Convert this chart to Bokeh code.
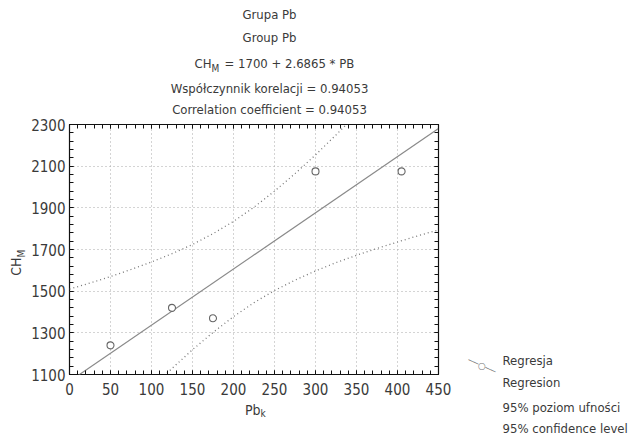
from bokeh.plotting import figure
from bokeh.models import Range1d, LinearAxis, FixedTicker, Label
from bokeh.embed import file_html
from bokeh.resources import INLINE

# ---- data ----
pb = [50, 125, 175, 300, 405]
ch = [1240, 1420, 1370, 2075, 2075]

reg_x = [0, 450]
reg_y = [1067.1, 2280.4]

band_x = [0, 25, 50, 75, 100, 125, 150, 175, 200, 225, 250, 275, 300, 325, 350, 375, 400, 425, 450]
band_upper = [1510, 1539, 1570, 1604, 1640, 1680, 1724, 1776, 1835, 1903, 1980, 2064, 2154, 2250, 2349, 2451, 2555, 2660, 2767]
band_lower = [624, 730, 833, 935, 1034, 1129, 1219, 1302, 1378, 1445, 1503, 1553, 1597, 1637, 1672, 1705, 1736, 1766, 1794]

x_ticks = [0, 50, 100, 150, 200, 250, 300, 350, 400, 450]
y_ticks = [1100, 1300, 1500, 1700, 1900, 2100, 2300]

title_lines = ["Grupa Pb", "Group Pb"]
eq_text = "= 1700 + 2.6865 * PB"
corr_lines = ["Współczynnik korelacji = 0.94053", "Correlation coefficient = 0.94053"]
legend_reg = ["Regresja", "Regresion"]
legend_conf = ["95% poziom ufności", "95% confidence level"]

# ---- geometry ----
W, H = 636, 439
FL, FR, FT, FB = 69, 438, 124, 374
X0, X1, Y0, Y1 = 0, 450, 1100, 2300

def xd(px):
    return X0 + (px - FL) * (X1 - X0) / (FR - FL)

def yd(py):
    return Y1 - (py - FT) * (Y1 - Y0) / (FB - FT)

FONT = "'Liberation Sans Narrow', 'DejaVu Sans Condensed', sans-serif"
TXT = "#3a3a3a"
FS = "15px"
FT_S = "13px"

p = figure(width=W, height=H, output_backend="svg", toolbar_location=None,
           x_range=Range1d(X0, X1), y_range=Range1d(Y0, Y1),
           min_border_left=FL, min_border_right=W - FR,
           min_border_top=FT, min_border_bottom=H - FB,
           x_axis_location=None, y_axis_location=None)
p.background_fill_color = "white"
p.border_fill_color = "white"
p.outline_line_color = "#111111"
p.outline_line_width = 1.2

xt = FixedTicker(ticks=x_ticks, minor_ticks=list(range(0, 451, 10)))
yt = FixedTicker(ticks=y_ticks, minor_ticks=list(range(1100, 2301, 40)))

for g in p.xgrid:
    g.ticker = xt
for g in p.ygrid:
    g.ticker = yt
p.grid.grid_line_color = "#a8a8a8"
p.grid.grid_line_dash = "1 3"

def style_axis(ax):
    ax.axis_line_color = None
    ax.major_tick_in = 4
    ax.major_tick_out = 0
    ax.minor_tick_in = 4
    ax.minor_tick_out = 0
    ax.major_tick_line_color = "#111111"
    ax.minor_tick_line_color = "#111111"
    ax.major_label_text_font = FONT
    ax.major_label_text_font_size = FS
    ax.major_label_text_color = TXT

xb = LinearAxis(ticker=xt)
style_axis(xb)
xb.major_label_standoff = 8
p.add_layout(xb, "below")

yl = LinearAxis(ticker=yt)
style_axis(yl)
yl.major_label_standoff = 4
p.add_layout(yl, "left")

xa = LinearAxis(ticker=xt, major_label_overrides={t: "" for t in x_ticks})
style_axis(xa)
xa.major_label_text_font_size = "1px"
xa.major_label_standoff = 0
p.add_layout(xa, "above")
yr = LinearAxis(ticker=yt, major_label_overrides={t: "" for t in y_ticks})
style_axis(yr)
yr.major_label_text_font_size = "1px"
yr.major_label_standoff = 0
p.add_layout(yr, "right")

# confidence bands
p.line(band_x, band_upper, line_color="#777777", line_width=1.3, line_dash="1 3")
p.line(band_x, band_lower, line_color="#777777", line_width=1.3, line_dash="1 3")
# regression line
p.line(reg_x, reg_y, line_color="#8a8a8a", line_width=1.2)
# points
p.scatter(pb, ch, marker="circle", size=7, fill_color="white", line_color="#666666", line_width=1.1)

def lab(px, py, text, side, align="center", size=FT_S, angle=0, baseline="middle", lh=1.2,
        color=TXT, font=FONT):
    p.add_layout(Label(x=xd(px), y=yd(py), text=text, text_align=align, text_baseline=baseline,
                       text_font=font, text_font_size=size, text_color=color, angle=angle,
                       text_line_height=lh), side)

CX = 269
lab(CX, 14, title_lines[0], "above")
lab(CX, 37, title_lines[1], "above")
# equation line with subscript
lab(211, 63, "CH", "above", align="right")
lab(211, 68, "M", "above", align="left", size="10px")
lab(224, 63, eq_text, "above", align="left")
lab(CX, 88, corr_lines[0], "above")
lab(CX, 109, corr_lines[1], "above")

# legend symbol: slanted line with an open circle
lab(481.5, 365.5, "──○──", "above", size="9px", angle=-0.43, color="#777777", font="DejaVu Sans")

# axis titles
lab(260, 409, "Pb", "below", align="right", size="14px")
lab(260, 413, "k", "below", align="left", size="10px")
lab(15, 257, "CH", "left", align="right", angle=1.5708, size="14px")
lab(21, 257, "M", "left", align="left", angle=1.5708, size="10px")

# legend texts
lab(502, 371, "\n".join(legend_reg), "right", align="left", lh=1.5)
lab(502, 417, "\n".join(legend_conf), "right", align="left", lh=1.4)

open("out.html", "w").write(file_html(p, INLINE))
